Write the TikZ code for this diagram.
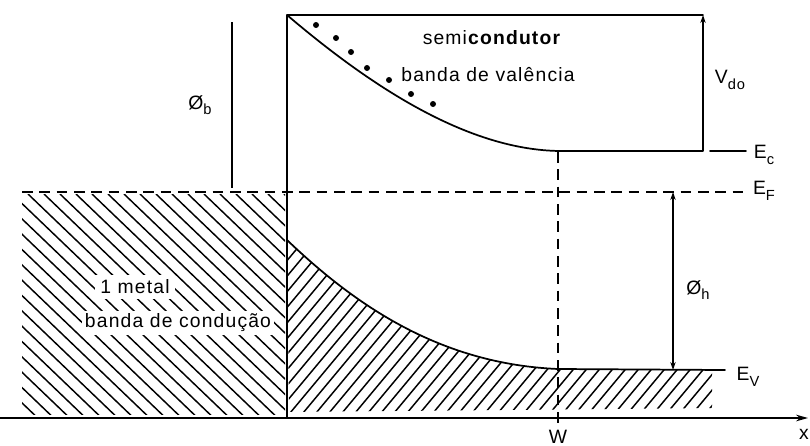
\documentclass[tikz,border=0pt]{standalone}
\usepackage{fontspec}
\setmainfont{Liberation Sans}[LetterSpace=6]
\usetikzlibrary{arrows.meta}
\newcommand\lowsub[1]{\raisebox{-0.55ex}{\fontsize{11}{12}\selectfont #1}}
\tikzset{
  thick line/.style={line width=1.3pt, line cap=round},
  thin line/.style={line width=0.8pt},
  hatchline/.style={line width=1.1pt},
  dashline/.style={line width=1.1pt, dash pattern=on 8pt off 5pt},
  lbl/.style={inner sep=1pt},
  dimarrow/.style={line width=0.9pt, -{Stealth[length=6pt,width=4pt]}},
  electron/.style={circle, fill=black, inner sep=0pt, minimum size=4.5pt}
}
\begin{document}
\begin{tikzpicture}[x=0.75pt,y=-0.75pt,font=\fontsize{14.5}{16}\selectfont]
\useasboundingbox (0,0) rectangle (810,446);
% key coordinates
\coordinate (tl) at (287,15);
\coordinate (tr) at (703,15);
\coordinate (ecw) at (560,151);
\coordinate (ecr) at (703,151);
\coordinate (ecs) at (710,151);
\coordinate (ece) at (746,151);
\coordinate (efl) at (22,192);
\coordinate (efr) at (745,192);
\coordinate (evl) at (287,240);
\coordinate (evw) at (558,369);
\coordinate (evr) at (725,370);
\coordinate (axl) at (0,418);
\coordinate (axr) at (808,418);
\coordinate (ib) at (287,418);
\coordinate (wt) at (558,152);
\coordinate (wb) at (558,426);
\coordinate (bt) at (232,22);
\coordinate (bb) at (232,188);
\coordinate (ht) at (673,192);
\coordinate (hb) at (673,370);

% metal hatching
\begin{scope}
  \clip (22,194) rectangle (285,414);
  \foreach \a in {-260,-244,...,290}
    \draw[hatchline] (\a,194) -- ++(240,230);
\end{scope}
% semiconductor hatching
\begin{scope}
  \clip (evl) .. controls (355,305) and (440,364) .. (evw) -- (712,370) -- (712,408) -- (289,412) -- cycle;
  \foreach \a in {150,163,...,760}
    \draw[hatchline] (\a,425) -- ++(200,-240);
\end{scope}

% texts
\node[lbl] (semi) at (492,38) {semi\textbf{condutor}};
\node[lbl] (bval) at (488,75) {banda de valência};
\node[lbl, fill=white, inner sep=4pt] (metal) at (135,287) {1 metal};
\node[lbl, fill=white, inner sep=2pt] (bcond) at (178,323) {banda de condução};

% frame lines
\draw[thick line] (tl) -- (tr);
\draw[thin line] (tl) -- (ib);
\draw[thick line] (tl) .. controls (375,90) and (470,150) .. (ecw) -- (ecr);
\draw[thick line] (ecs) -- (ece);
\draw[thick line] (evl) .. controls (355,305) and (440,364) .. (evw) -- (evr);
\draw[dashline] (efl) -- (efr);
\draw[dashline] (wt) -- (wb);
\draw[line width=1.2pt, -{Stealth[length=9pt,width=5pt]}] (axl) -- (axr);

% electrons along Ec
\foreach \p [count=\i] in {(316,25),(336,38),(351,52),(367,68),(389,80),(411,94),(433,104)}
  \node[electron] (e\i) at \p {};

% dimension lines
\draw[thin line] (bt) -- (bb);
\draw[dimarrow] (ecr) -- (tr);
\draw[dimarrow, {Stealth[length=6pt,width=4pt]}-{Stealth[length=6pt,width=4pt]}] (ht) -- (hb);

% labels
\node[lbl] (phib) at (200,105) {Ø\lowsub{b}};
\node[lbl] (vdo) at (730,80) {V\lowsub{do}};
\node[lbl] (ec) at (764,155) {E\lowsub{c}};
\node[lbl] (ef) at (764,191) {E\lowsub{F}};
\node[lbl] (phih) at (698,290) {Ø\lowsub{h}};
\node[lbl] (ev) at (748,377) {E\lowsub{V}};
\node[lbl] (w) at (558,437) {W};
\node[lbl] (x) at (804,434) {x};
\end{tikzpicture}
\end{document}
